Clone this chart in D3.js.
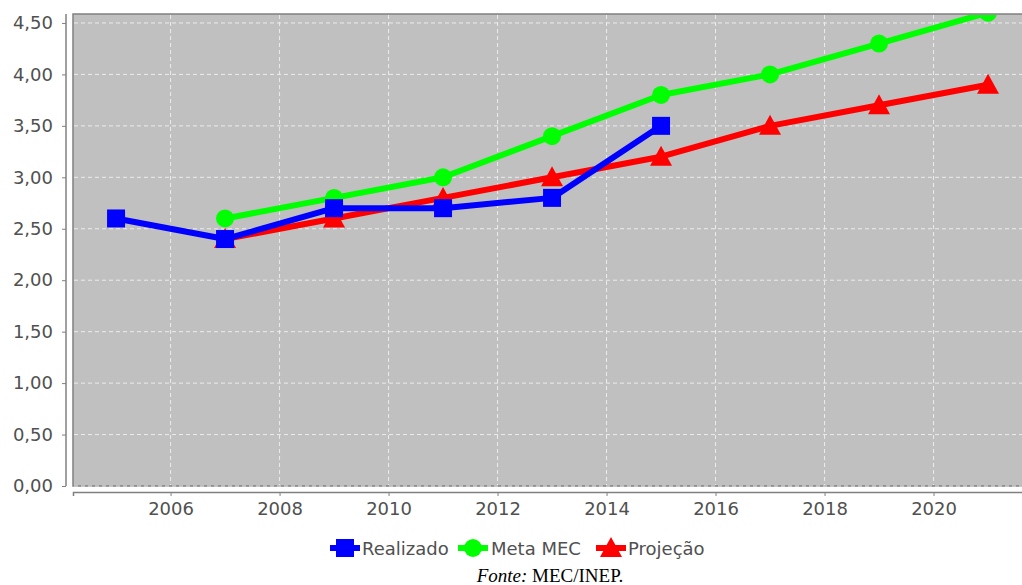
<!DOCTYPE html>
<html>
<head>
<meta charset="utf-8">
<script src="https://cdn.jsdelivr.net/npm/d3@7"></script>
<style>
  body { margin: 0; background: #fff; }
  svg { display: block; }
  .tick text { font-family: "DejaVu Sans", sans-serif; font-size: 18px; fill: #505050; }
</style>
</head>
<body>
<div id="chart"></div>
<script>
// ---------- data ----------
const realizadoYears = [2005, 2007, 2009, 2011, 2013, 2015];
const realizadoValues = [2.6, 2.4, 2.7, 2.7, 2.8, 3.5];
const metaYears = [2007, 2009, 2011, 2013, 2015, 2017, 2019, 2021];
const metaValues = [2.6, 2.8, 3.0, 3.4, 3.8, 4.0, 4.3, 4.6];
const projYears = [2007, 2009, 2011, 2013, 2015, 2017, 2019, 2021];
const projValues = [2.4, 2.6, 2.8, 3.0, 3.2, 3.5, 3.7, 3.9];
const xTicks = [2006, 2008, 2010, 2012, 2014, 2016, 2018, 2020];
const yTicks = [0, 0.5, 1, 1.5, 2, 2.5, 3, 3.5, 4, 4.5];

const width = 1022, height = 585;
const plot = { left: 73, top: 14, right: 1024, bottom: 486 };

const svg = d3.select('#chart').append('svg')
    .attr('width', width)
    .attr('height', height);

const x = d3.scaleLinear().domain([2004.21, 2021.66]).range([plot.left, plot.right]);
const y = d3.scaleLinear().domain([0, 4.587]).range([plot.bottom, plot.top]);
const fmt = d => d3.format('.2f')(d).replace('.', ',');

// plot background
svg.append('rect')
    .attr('x', plot.left).attr('y', plot.top)
    .attr('width', plot.right - plot.left).attr('height', plot.bottom - plot.top)
    .attr('fill', '#c0c0c0')
    .attr('stroke', '#808080').attr('stroke-width', 1.5);

svg.append('clipPath').attr('id', 'clip')
    .append('rect')
    .attr('x', plot.left + 1).attr('y', plot.top + 1)
    .attr('width', plot.right - plot.left).attr('height', plot.bottom - plot.top - 2);

// grid
const grid = svg.append('g')
    .attr('stroke', '#ececec').attr('stroke-width', 1).attr('stroke-dasharray', '4,3');
grid.selectAll('.vg').data(xTicks).enter().append('line')
    .attr('x1', d => x(d)).attr('x2', d => x(d))
    .attr('y1', plot.top + 1).attr('y2', plot.bottom - 1);
grid.selectAll('.hg').data(yTicks).enter().append('line')
    .attr('y1', d => y(d)).attr('y2', d => y(d))
    .attr('x1', plot.left + 1).attr('x2', plot.right);

// axes
const xAxis = svg.append('g')
    .attr('transform', `translate(0,${plot.bottom + 6})`)
    .call(d3.axisBottom(x).tickValues(xTicks).tickFormat(d3.format('d')).tickSize(4).tickPadding(6));
xAxis.select('.domain').attr('stroke', '#808080').attr('stroke-width', 1.5);
xAxis.selectAll('.tick line').attr('stroke', '#808080');

const yAxis = svg.append('g')
    .attr('transform', `translate(${plot.left - 7},0)`)
    .call(d3.axisLeft(y).tickValues(yTicks).tickFormat(fmt).tickSize(4).tickPadding(9));
yAxis.select('.domain').attr('stroke', '#808080').attr('stroke-width', 1.5)
    .attr('d', `M0,${plot.top}V${plot.bottom}`);
yAxis.selectAll('.tick line').attr('stroke', '#808080');

// series
const series = [
    { name: 'Realizado', years: realizadoYears, values: realizadoValues, color: '#0000ff', shape: 'square' },
    { name: 'Meta MEC', years: metaYears, values: metaValues, color: '#00ff00', shape: 'circle' },
    { name: 'Projeção', years: projYears, values: projValues, color: '#ff0000', shape: 'triangle' }
];

const drawMarker = (g, shape, cx, cy, color) => {
    if (shape === 'circle') {
        g.append('circle').attr('cx', cx).attr('cy', cy).attr('r', 9).attr('fill', color);
    } else if (shape === 'square') {
        g.append('path').attr('d', `M${cx - 9},${cy - 9}h18v18h-18z`).attr('fill', color);
    } else {
        g.append('path').attr('d', `M${cx},${cy - 11}L${cx + 11},${cy + 9}L${cx - 11},${cy + 9}z`).attr('fill', color);
    }
};

const body = svg.append('g').attr('clip-path', 'url(#clip)');
const line = d3.line().x(d => x(d[0])).y(d => y(d[1]));

// draw order: projeção, meta, realizado on top
[series[2], series[1], series[0]].forEach(s => {
    const pts = s.years.map((yr, i) => [yr, s.values[i]]);
    const g = body.append('g');
    g.append('path').datum(pts)
        .attr('d', line)
        .attr('fill', 'none')
        .attr('stroke', s.color)
        .attr('stroke-width', 6)
        .attr('stroke-linejoin', 'round');
    pts.forEach(p => drawMarker(g, s.shape, x(p[0]), y(p[1]), s.color));
});

// legend
const legend = svg.append('g').attr('font-family', '"DejaVu Sans", sans-serif').attr('font-size', 18).attr('fill', '#505050');
const legendItems = [
    { s: series[0], x0: 330, tx: 362 },
    { s: series[1], x0: 458, tx: 491 },
    { s: series[2], x0: 596, tx: 628 }
];
const ly = 548;
legendItems.forEach(it => {
    legend.append('line')
        .attr('x1', it.x0).attr('x2', it.x0 + 30)
        .attr('y1', ly).attr('y2', ly)
        .attr('stroke', it.s.color).attr('stroke-width', 6);
    drawMarker(legend, it.s.shape, it.x0 + 15, ly, it.s.color);
    legend.append('text')
        .attr('x', it.tx).attr('y', ly + 7)
        .text(it.s.name);
});

// source
const src = svg.append('text')
    .attr('x', 550).attr('y', 582)
    .attr('text-anchor', 'middle')
    .attr('font-family', '"Liberation Serif", "DejaVu Serif", serif')
    .attr('font-size', 19).attr('fill', '#000');
src.append('tspan').attr('font-style', 'italic').text('Fonte:');
src.append('tspan').text(' MEC/INEP.');
</script>
</body>
</html>
